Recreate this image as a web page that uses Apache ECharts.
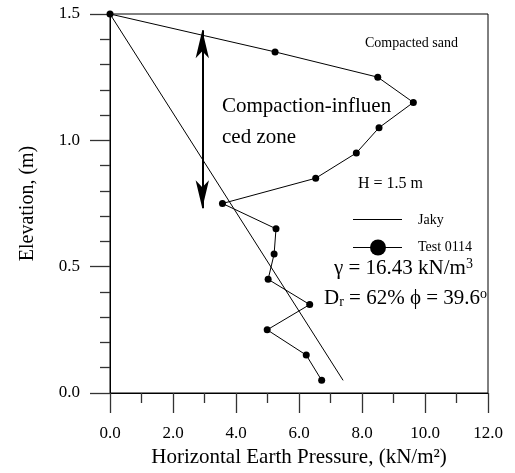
<!DOCTYPE html>
<html>
<head>
<meta charset="utf-8">
<script src="https://cdn.jsdelivr.net/npm/echarts@6/dist/echarts.min.js"></script>
<style>
  html, body { margin: 0; padding: 0; background: #fff; }
  #chart { width: 515px; height: 473px; }
</style>
</head>
<body>
<div id="chart"></div>
<script>
// measured test points: horizontal earth pressure (kN/m2) vs elevation (m)
var testPressure = [0, 5.24, 8.5, 9.63, 8.54, 7.82, 6.53, 3.57, 5.27, 5.21, 5.02, 6.34, 4.99, 6.23, 6.72]
var testElevation = [1.5, 1.35, 1.25, 1.15, 1.05, 0.95, 0.85, 0.75, 0.65, 0.55, 0.45, 0.35, 0.25, 0.15, 0.05]
// Jaky line end points
var jakyPressure = [0, 7.4]
var jakyElevation = [1.5, 0.05]
// compaction zone arrow (x, top, bottom)
var zoneArrow = [2.93, 1.436, 0.731]

var serif = 'Liberation Serif'

function pairs(xs, ys) {
  return xs.map(function (x, i) { return [x, ys[i]] })
}

var chart = echarts.init(document.getElementById('chart'))

var option = {
  animation: false,
  backgroundColor: '#fff',
  grid: {
    left: 110,
    right: 27,
    top: 14,
    bottom: 80,
    show: true,
    borderColor: '#000',
    borderWidth: 1,
    backgroundColor: 'transparent'
  },
  xAxis: {
    type: 'value',
    min: 0,
    max: 12,
    interval: 2,
    name: 'Horizontal Earth Pressure, (kN/m²)',
    nameLocation: 'middle',
    nameGap: 53,
    nameTextStyle: { fontFamily: serif, fontSize: 21, color: '#000' },
    axisLine: { lineStyle: { color: '#000', width: 1 } },
    axisTick: { length: 20, lineStyle: { color: '#333', width: 1.3 } },
    minorTick: { show: true, splitNumber: 2, length: 10, lineStyle: { color: '#333', width: 1.3 } },
    splitLine: { show: false },
    axisLabel: {
      margin: 32,
      fontFamily: serif,
      fontSize: 17,
      color: '#000',
      formatter: function (v) { return v.toFixed(1) }
    }
  },
  yAxis: {
    type: 'value',
    min: 0,
    max: 1.5,
    interval: 0.5,
    name: 'Elevation, (m)',
    nameLocation: 'middle',
    nameGap: 72,
    nameTextStyle: { fontFamily: serif, fontSize: 20, color: '#000' },
    axisLine: { lineStyle: { color: '#000', width: 1 } },
    axisTick: { length: 20, lineStyle: { color: '#333', width: 1.3 } },
    minorTick: { show: true, splitNumber: 5, length: 10, lineStyle: { color: '#333', width: 1.3 } },
    splitLine: { show: false },
    axisLabel: {
      margin: 30,
      fontFamily: serif,
      fontSize: 17,
      color: '#000',
      formatter: function (v) { return v.toFixed(1) }
    }
  },
  series: [
    {
      name: 'Jaky',
      type: 'line',
      data: pairs(jakyPressure, jakyElevation),
      symbol: 'none',
      lineStyle: { color: '#000', width: 1 },
      z: 2
    },
    {
      name: 'Test 0114',
      type: 'line',
      data: pairs(testPressure, testElevation),
      symbol: 'circle',
      symbolSize: 7,
      itemStyle: { color: '#000' },
      lineStyle: { color: '#000', width: 1 },
      z: 3,
      markLine: {
        silent: true,
        symbol: ['arrow', 'arrow'],
        symbolSize: [10, 28],
        label: { show: false },
        lineStyle: { color: '#000', width: 2, type: 'solid' },
        data: [[
          { coord: [zoneArrow[0], zoneArrow[1]] },
          { coord: [zoneArrow[0], zoneArrow[2]] }
        ]]
      }
    }
  ],
  graphic: [
    { type: 'text', left: 365, top: 36, style: { text: 'Compacted sand', font: '14px "Liberation Serif"', fill: '#000' } },
    { type: 'text', left: 222, top: 96, style: { text: 'Compaction-influen', font: '21px "Liberation Serif"', fill: '#000' } },
    { type: 'text', left: 222, top: 127, style: { text: 'ced zone', font: '21px "Liberation Serif"', fill: '#000' } },
    { type: 'text', left: 358, top: 176, style: { text: 'H = 1.5 m', font: '16px "Liberation Serif"', fill: '#000' } },
    // legend
    { type: 'line', shape: { x1: 353, y1: 219.5, x2: 402, y2: 219.5 }, style: { stroke: '#000', lineWidth: 1 } },
    { type: 'text', left: 418, top: 213, style: { text: 'Jaky', font: '14px "Liberation Serif"', fill: '#000' } },
    { type: 'line', shape: { x1: 353, y1: 247.5, x2: 402, y2: 247.5 }, style: { stroke: '#000', lineWidth: 1 } },
    { type: 'circle', shape: { cx: 378, cy: 247.5, r: 8 }, style: { fill: '#000' } },
    { type: 'text', left: 418, top: 240, style: { text: 'Test 0114', font: '14px "Liberation Serif"', fill: '#000' } },
    {
      type: 'text', left: 334, top: 257,
      style: {
        text: 'γ = 16.43 kN/m{sup|3}',
        font: '21px "Liberation Serif"', fill: '#000',
        rich: { sup: { fontSize: 14, fontFamily: serif, padding: [0, 0, 9, 0] } }
      }
    },
    {
      type: 'text', left: 324, top: 287,
      style: {
        text: 'D{sub|r} = 62% ϕ = 39.6{sup|o}',
        font: '21px "Liberation Serif"', fill: '#000',
        rich: {
          sub: { fontSize: 14, fontFamily: serif, padding: [7, 0, 0, 0] },
          sup: { fontSize: 14, fontFamily: serif, padding: [0, 0, 9, 0] }
        }
      }
    }
  ]
}

chart.setOption(option)
</script>
</body>
</html>
